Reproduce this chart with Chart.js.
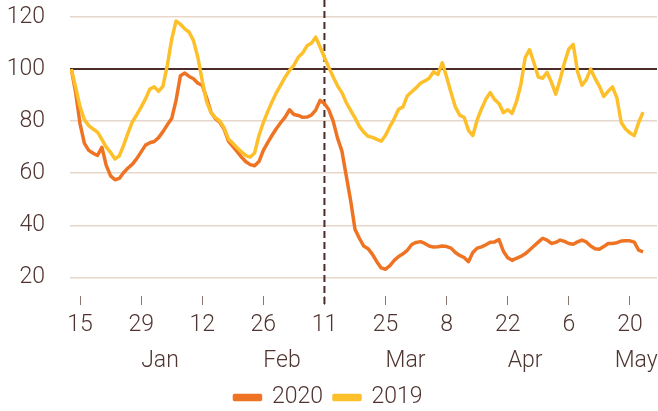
<!DOCTYPE html>
<html>
<head>
<meta charset="utf-8">
<script src="https://cdn.jsdelivr.net/npm/chart.js@4.4.1/dist/chart.umd.min.js"></script>
<style>
  html, body { margin: 0; padding: 0; background: #fff; }
</style>
</head>
<body>
<canvas id="chart" width="658" height="411"></canvas>
<script>
// x values are days counted from 15 Jan (day 0); the series start on 13 Jan
const firstDay = -2;

const values2020 = [
  100, 91, 79, 71.5, 68.8, 67.7, 66.8, 70, 63, 59, 57.5, 58, 60.3, 62, 63.5, 65.6,
  68.2, 70.8, 71.7, 72.2, 73.7, 76, 78.6, 81, 88, 97.5, 98.5, 97.2, 96.3, 94.6, 93.8, 89,
  83.5, 81, 79.6, 77, 72.3, 70.3, 68.3, 66.2, 64.4, 63.3, 62.9, 64.5, 68.8, 71.8, 74.6, 77.2,
  79.5, 81.6, 84.4, 82.6, 82.2, 81.5, 81.6, 82.3, 84.3, 88, 86.8, 84.4, 80, 73.5, 68.5, 59,
  49.5, 38.5, 35, 32, 31, 28.8, 26, 23.6, 23.1, 24.5, 26.5, 28, 29, 30.4, 32.6, 33.4,
  33.7, 33, 32, 31.6, 31.7, 32, 31.8, 31.2, 29.5, 28.4, 27.6, 26, 29.5, 31.2, 31.7, 32.5,
  33.5, 33.6, 34.5, 30, 27.5, 26.5, 27.3, 28, 29, 30.5, 32, 33.5, 35, 34.3, 33, 33.4,
  34.3, 33.8, 33, 32.7, 33.6, 34.3, 33.6, 32, 31, 30.8, 31.8, 33, 33, 33.3, 33.9, 34,
  34, 33.5, 30.4, 29.8
];

const values2019 = [
  100, 93, 85.5, 80.5, 78.3, 77, 75.8, 73, 70, 68, 65.5, 66.7, 70.8, 75.5, 79.8, 82.5,
  85.4, 88.6, 92.4, 93.2, 91.5, 93.5, 101.5, 111.5, 118.5, 117.3, 115.5, 114.2, 111, 104.5, 95.5, 87.5,
  83.3, 81.4, 80.1, 77.5, 73.2, 71.5, 69.8, 68.2, 66.8, 66.2, 67.8, 74.5, 79.5, 83.7, 87.5, 91,
  94, 97, 99.5, 101.5, 104.6, 106.2, 109, 110, 112.3, 108.5, 104.5, 100.7, 97, 93.6, 91, 87.2,
  84.2, 81.3, 78, 75.8, 74.2, 73.8, 73, 72.3, 74.6, 78, 81, 84.6, 85.5, 89.8, 91.3, 92.8,
  94.6, 95.5, 96.5, 99, 98, 102.5, 97, 91, 85.5, 82.3, 81.5, 76.5, 74.5, 80.5, 84.8, 88.5,
  91, 88.3, 86.8, 83.3, 84.4, 83, 87.5, 94, 104.5, 107.5, 102.5, 97, 96.5, 98.8, 95, 90.4,
  96, 102.5, 107.8, 109.5, 99, 93.8, 96, 100, 96.5, 93.5, 89.5, 91.5, 93.2, 89, 79.5, 77,
  75.5, 74.5, 79.5, 83.5
];

const tickDays = [0, 14, 28, 42, 56, 70, 84, 98, 112, 126];
const tickLabels = ['15', '29', '12', '26', '11', '25', '8', '22', '6', '20'];
const monthDays = [14, 42, 70, 98, 122.5];
const monthLabels = ['Jan', 'Feb', 'Mar', 'Apr', 'May'];
const gridValues = [20, 30, 40, 50, 60, 70, 80, 90, 100, 110, 120];
const markerDay = 56; // 11 Mar

const textColor = '#4f3531';
const darkLine = '#4a2c2a';
const lightGrid = '#e6d7ca';
const orange = '#ee7424';
const yellow = '#fdbf2a';

Chart.defaults.font.family = 'Roboto, "Open Sans", sans-serif';
Chart.defaults.font.size = 23;
Chart.defaults.font.weight = 300;
Chart.defaults.color = textColor;

const toPoints = vals => vals.map((v, i) => ({ x: firstDay + i, y: v }));

// dashed vertical line on 11 March
const marchLine = {
  id: 'marchLine',
  beforeDatasetsDraw(chart) {
    const { ctx, chartArea, scales } = chart;
    const x = scales.x.getPixelForValue(markerDay);
    ctx.save();
    ctx.strokeStyle = darkLine;
    ctx.lineWidth = 2;
    ctx.setLineDash([7, 4]);
    ctx.beginPath();
    ctx.moveTo(x, chartArea.top);
    ctx.lineTo(x, chartArea.bottom + scales.x.options.grid.tickLength);
    ctx.stroke();
    ctx.restore();
  }
};

new Chart(document.getElementById('chart'), {
  type: 'line',
  data: {
    datasets: [
      {
        label: '2020',
        data: toPoints(values2020),
        borderColor: orange,
        backgroundColor: orange,
        borderWidth: 3.5,
        pointRadius: 0,
        borderJoinStyle: 'round',
        order: 1
      },
      {
        label: '2019',
        data: toPoints(values2019),
        borderColor: yellow,
        backgroundColor: yellow,
        borderWidth: 3.5,
        pointRadius: 0,
        borderJoinStyle: 'round',
        order: 0
      }
    ]
  },
  options: {
    responsive: false,
    animation: false,
    devicePixelRatio: 1,
    layout: { autoPadding: false, padding: { top: 0, left: 0, right: 1, bottom: -8 } },
    plugins: {
      tooltip: { enabled: false },
      legend: {
        position: 'bottom',
        labels: {
          boxWidth: 26,
          boxHeight: 4,
          padding: 11,
          sort: (a, b) => a.datasetIndex - b.datasetIndex
        }
      }
    },
    scales: {
      x: {
        type: 'linear',
        min: -2.3,
        max: 132.2,
        weight: 0,
        afterBuildTicks: s => { s.ticks = tickDays.map(v => ({ value: v })); },
        afterFit: s => { s.height = 43; s.paddingLeft = 0; s.paddingRight = 0; },
        grid: { drawOnChartArea: false, tickLength: 9, color: '#8a7470', lineWidth: 1 },
        border: { display: false },
        ticks: { padding: 6, maxRotation: 0, autoSkip: false, callback: (v, i) => tickLabels[i] }
      },
      month: {
        type: 'linear',
        position: 'bottom',
        axis: 'x',
        min: -2.3,
        max: 132.2,
        weight: 1,
        afterBuildTicks: s => { s.ticks = monthDays.map(v => ({ value: v })); },
        afterFit: s => { s.height = 36; s.paddingLeft = 0; s.paddingRight = 0; },
        grid: { display: false, drawTicks: false },
        border: { display: false },
        ticks: { padding: 8, align: 'start', maxRotation: 0, autoSkip: false, callback: (v, i) => monthLabels[i] }
      },
      y: {
        min: 12.8,
        max: 126.6,
        afterBuildTicks: s => { s.ticks = gridValues.map(v => ({ value: v })); },
        afterFit: s => { s.width = 70; s.paddingTop = 0; s.paddingBottom = 0; },
        grid: {
          drawTicks: false,
          color: c => c.tick && c.tick.value === 100 ? darkLine : lightGrid,
          lineWidth: c => c.tick && c.tick.value === 100 ? 2 : 1.5
        },
        border: { display: false },
        ticks: { padding: 25, callback: v => (v % 20 === 0 ? v : '') }
      }
    }
  },
  plugins: [marchLine]
});
</script>
</body>
</html>
